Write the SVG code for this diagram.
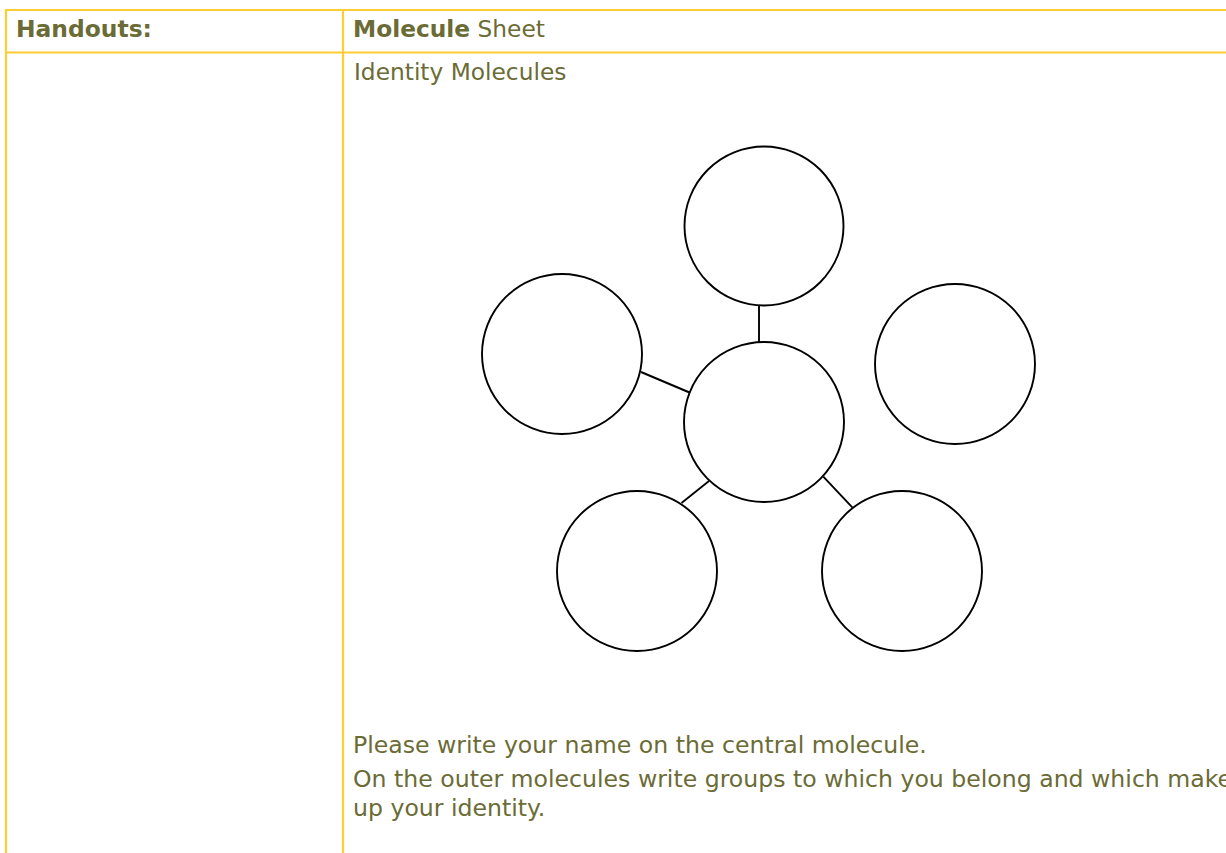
<svg xmlns="http://www.w3.org/2000/svg" width="1226" height="853" viewBox="0 0 1226 853">
<style>
.grid{stroke:#FFCC33;stroke-width:2.2;fill:none}
.t{font-family:"DejaVu Sans",Verdana,sans-serif;fill:#6b6b35}
.h{font-size:23.4px;font-weight:bold}
.b{font-size:23.3px}
.s{font-size:23.6px}
.mol{fill:#fff;stroke:#000;stroke-width:1.9}
.bond{stroke:#000;stroke-width:1.9;fill:none}
</style>
<rect width="1226" height="853" fill="#fff"/>
<g id="table">
<line class="grid" x1="5" y1="10" x2="1226" y2="10"/>
<line class="grid" x1="5" y1="52.5" x2="1226" y2="52.5"/>
<line class="grid" x1="6" y1="9" x2="6" y2="853"/>
<line class="grid" x1="343" y1="9" x2="343" y2="853"/>
</g>
<g id="header">
<text class="t h" x="16" y="36.5">Handouts:</text>
<text class="t b" x="353" y="36.5"><tspan font-weight="bold">Molecule</tspan> Sheet</text>
</g>
<g id="title"><text class="t b" x="354" y="80">Identity Molecules</text></g>
<g id="connectors">
<line class="bond" x1="759" y1="305" x2="759" y2="343"/>
<line class="bond" x1="641" y1="372" x2="689.5" y2="392.5"/>
<line class="bond" x1="709" y1="481" x2="681.5" y2="503"/>
<line class="bond" x1="823.3" y1="476.7" x2="852.3" y2="507.3"/>
</g>
<g id="mol-top"><circle class="mol" cx="764" cy="226" r="79.5"/></g>
<g id="mol-left"><circle class="mol" cx="562" cy="354" r="80"/></g>
<g id="mol-right"><circle class="mol" cx="955" cy="364" r="80"/></g>
<g id="mol-center"><circle class="mol" cx="764" cy="422" r="80"/></g>
<g id="mol-bottom-left"><circle class="mol" cx="637" cy="571" r="80"/></g>
<g id="mol-bottom-right"><circle class="mol" cx="902" cy="571" r="80"/></g>
<g id="instructions">
<text class="t s" x="353" y="753">Please write your name on the central molecule.</text>
<text class="t s" x="353" y="786.5">On the outer molecules write groups to which you belong and which make</text>
<text class="t s" x="353" y="815.5">up your identity.</text>
</g>
</svg>
